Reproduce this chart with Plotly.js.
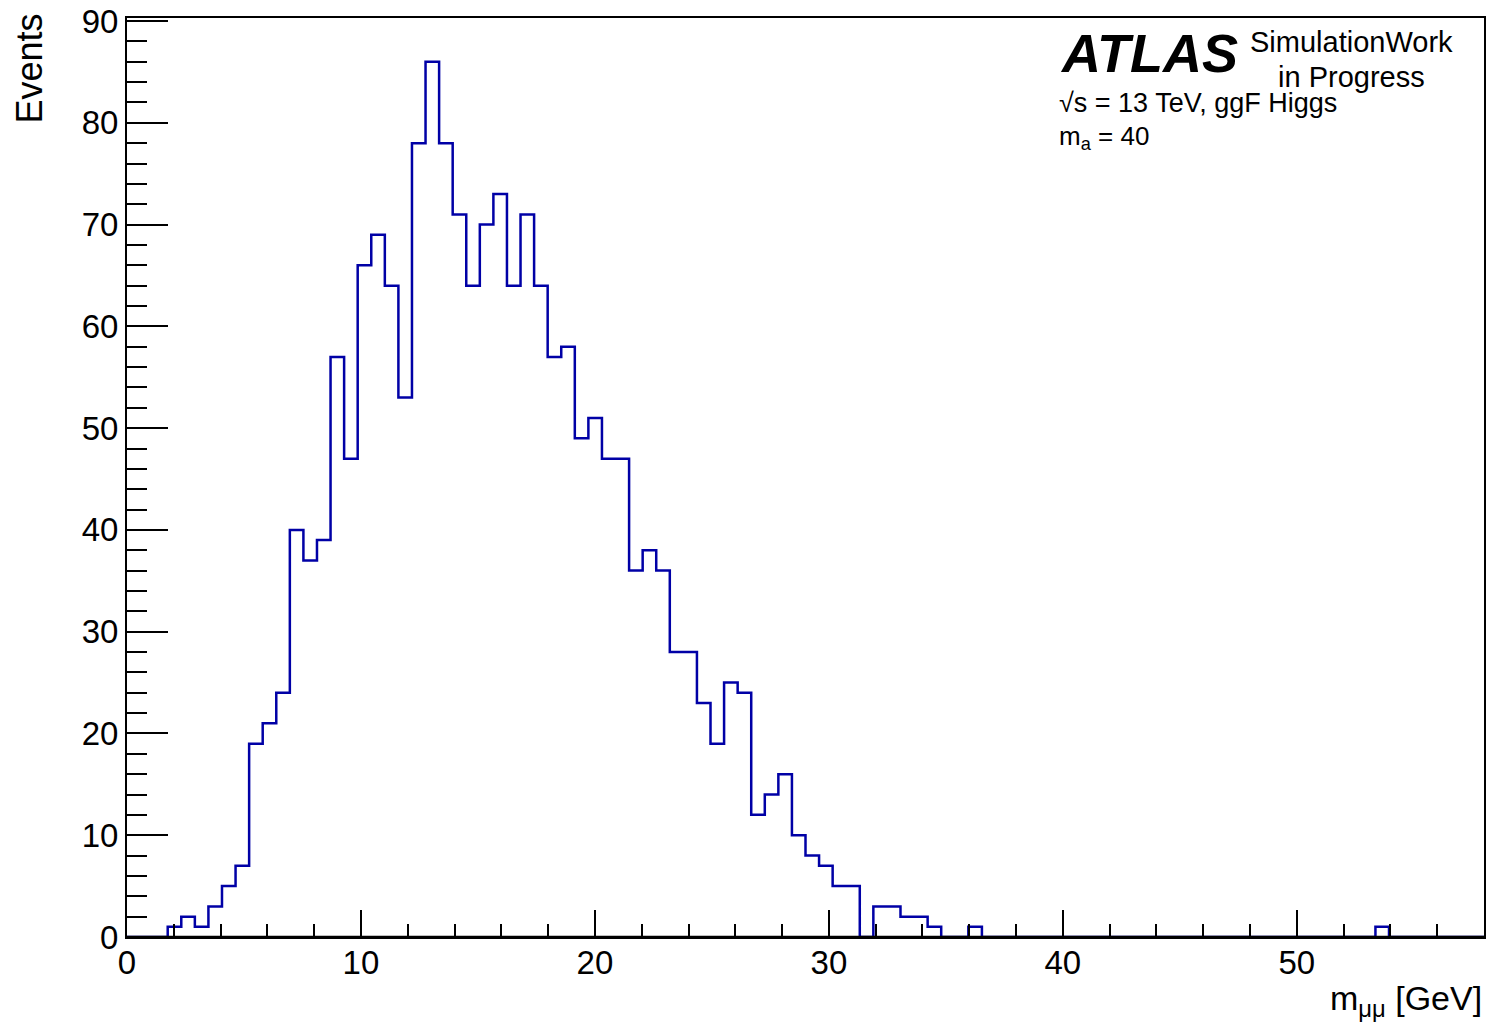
<!DOCTYPE html>
<html>
<head>
<meta charset="utf-8">
<script src="https://cdn.plot.ly/plotly-3.0.1.min.js"></script>
<style>
  html, body { margin: 0; padding: 0; background: #ffffff; }
  #plot { width: 1495px; height: 1023px; }
</style>
</head>
<body>
<div id="plot"></div>
<script>
// Di-muon invariant mass histogram, 100 bins from 0 to 58 GeV
const binLow = 0;
const binHigh = 58;
const nBins = 100;

// Events per bin
const binCounts = [
  0, 0, 0, 1, 2, 1, 3, 5, 7, 19,
  21, 24, 40, 37, 39, 57, 47, 66, 69, 64,
  53, 78, 86, 78, 71, 64, 70, 73, 64, 71,
  64, 57, 58, 49, 51, 47, 47, 36, 38, 36,
  28, 28, 23, 19, 25, 24, 12, 14, 16, 10,
  8, 7, 5, 5, 0, 3, 3, 2, 2, 1,
  0, 0, 1, 0, 0, 0, 0, 0, 0, 0,
  0, 0, 0, 0, 0, 0, 0, 0, 0, 0,
  0, 0, 0, 0, 0, 0, 0, 0, 0, 0,
  0, 0, 1, 0, 0, 0, 0, 0, 0, 0
];

const xTickValues = [0, 10, 20, 30, 40, 50];
const yTickValues = [0, 10, 20, 30, 40, 50, 60, 70, 80, 90];

const xTitle = 'm<sub>μμ</sub> [GeV]';
const yTitle = 'Events';
const labelLines = {
  experiment: 'ATLAS',
  status1: 'SimulationWork',
  status2: 'in Progress',
  energy: '√s = 13 TeV, ggF Higgs',
  mass: 'm<sub>a</sub> = 40'
};

// Step outline: one point per bin edge, last count repeated to close the final bin
const binWidth = (binHigh - binLow) / nBins;
const edges = [];
for (let i = 0; i <= nBins; i++) edges.push(binLow + i * binWidth);
const stepY = binCounts.concat([binCounts[binCounts.length - 1]]);

const FONT = 'Liberation Sans, Arial, Helvetica, sans-serif';

const trace = {
  type: 'scatter',
  mode: 'lines',
  x: edges,
  y: stepY,
  line: { shape: 'hv', color: '#0000a6', width: 2.5 },
  hoverinfo: 'skip',
  showlegend: false
};

const axisCommon = {
  showgrid: false,
  zeroline: false,
  showline: true,
  linecolor: '#000000',
  linewidth: 2,
  mirror: true,
  ticks: 'inside',
  tickcolor: '#000000',
  tickwidth: 2,
  layer: 'above traces',
  tickfont: { family: FONT, size: 33, color: '#000000' }
};

const layout = {
  width: 1495,
  height: 1023,
  paper_bgcolor: '#ffffff',
  plot_bgcolor: '#ffffff',
  margin: { l: 127, r: 11, t: 18, b: 86, pad: 0 },
  font: { family: FONT, color: '#000000' },
  xaxis: Object.assign({}, axisCommon, {
    range: [binLow, binHigh],
    tickmode: 'array',
    tickvals: xTickValues,
    ticktext: xTickValues.map(String),
    ticklen: 27,
    ticklabelstandoff: -5,
    minor: { dtick: 2, tick0: 0, ticks: 'inside', ticklen: 13, tickwidth: 2, tickcolor: '#000000', showgrid: false }
  }),
  yaxis: Object.assign({}, axisCommon, {
    range: [0, 90.3],
    tickmode: 'array',
    tickvals: yTickValues,
    ticktext: yTickValues.map(String),
    ticklen: 41,
    ticklabelstandoff: 0,
    minor: { dtick: 2, tick0: 0, ticks: 'inside', ticklen: 20, tickwidth: 2, tickcolor: '#000000', showgrid: false }
  }),
  // frame edge along the x axis, kept on top of the histogram outline
  shapes: [
    {
      type: 'line', xref: 'paper', yref: 'paper',
      x0: 0, x1: 1, y0: 0, y1: 0,
      line: { color: '#000000', width: 2.5 },
      layer: 'above'
    }
  ],
  annotations: [
    {
      text: yTitle, xref: 'paper', yref: 'paper',
      x: -0.0715, y: 1.007, xanchor: 'center', yanchor: 'top',
      textangle: -90, showarrow: false,
      font: { family: FONT, size: 36, color: '#000000' }
    },
    {
      text: xTitle, xref: 'paper', yref: 'paper',
      x: 1.0, y: -0.069, xanchor: 'right', yanchor: 'middle',
      showarrow: false,
      font: { family: FONT, size: 34, color: '#000000' }
    },
    {
      text: '<b><i>' + labelLines.experiment + '</i></b>', xref: 'paper', yref: 'paper',
      x: 0.6862, y: 0.9616, xanchor: 'left', yanchor: 'middle',
      showarrow: false,
      font: { family: FONT, size: 54, color: '#000000' }
    },
    {
      text: labelLines.status1, xref: 'paper', yref: 'paper',
      x: 0.8258, y: 0.9736, xanchor: 'left', yanchor: 'middle',
      showarrow: false,
      font: { family: FONT, size: 29, color: '#000000' }
    },
    {
      text: labelLines.status2, xref: 'paper', yref: 'paper',
      x: 0.847, y: 0.9355, xanchor: 'left', yanchor: 'middle',
      showarrow: false,
      font: { family: FONT, size: 29, color: '#000000' }
    },
    {
      text: labelLines.energy, xref: 'paper', yref: 'paper',
      x: 0.6855, y: 0.9072, xanchor: 'left', yanchor: 'middle',
      showarrow: false,
      font: { family: FONT, size: 27, color: '#000000' }
    },
    {
      text: labelLines.mass, xref: 'paper', yref: 'paper',
      x: 0.6855, y: 0.8702, xanchor: 'left', yanchor: 'middle',
      showarrow: false,
      font: { family: FONT, size: 26, color: '#000000' }
    }
  ]
};

Plotly.newPlot('plot', [trace], layout, { displayModeBar: false, staticPlot: true });
</script>
</body>
</html>
